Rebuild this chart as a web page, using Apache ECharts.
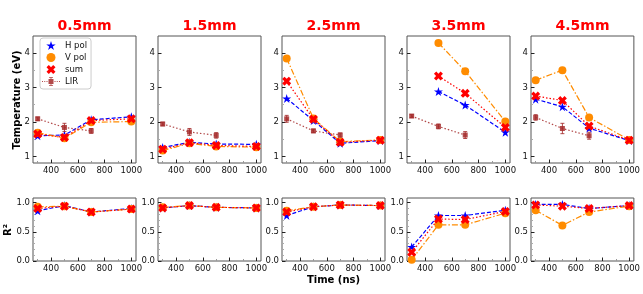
<!DOCTYPE html>
<html><head><meta charset="utf-8">
<script src="https://cdn.jsdelivr.net/npm/echarts@6/dist/echarts.min.js"></script>
<style>html,body{margin:0;padding:0;background:#fff}#c{width:643px;height:294px}</style>
</head><body><div id="c"></div>
<script>
// ---- data ----
const panels = ['0.5mm', '1.5mm', '2.5mm', '3.5mm', '4.5mm'];
const times = [300, 500, 700, 1000];
const xTickLabels = [400, 600, 800, 1000];
const xMinorTicks = [300, 500, 700, 900];
const tempTickLabels = [1, 2, 3, 4];
const tempMinorTicks = [1.5, 2.5, 3.5];
const r2TickLabels = [0, 0.5, 1.0];
const r2MinorTicks = [0.1, 0.2, 0.3, 0.4, 0.6, 0.7, 0.8, 0.9];

const tempH   = [[1.60, 1.62, 2.06, 2.15], [1.26, 1.41, 1.36, 1.35], [2.68, 2.04, 1.38, 1.46], [null, 2.88, 2.49, 1.70], [2.66, 2.44, 1.82, 1.46]];
const tempV   = [[1.69, 1.53, 1.99, 2.01], [1.17, 1.38, 1.29, 1.27], [3.84, 2.10, 1.43, 1.48], [null, 4.29, 3.47, 2.01], [3.21, 3.50, 2.13, 1.48]];
const tempSum = [[1.65, 1.55, 2.04, 2.09], [1.21, 1.40, 1.32, 1.29], [3.18, 2.08, 1.41, 1.47], [null, 3.33, 2.83, 1.84], [2.75, 2.62, 1.88, 1.47]];
const lirTimes = [300, 500, 700];
const lirT   = [[2.09, 1.84, 1.74], [1.94, 1.71, 1.61], [2.09, 1.74, 1.62], [2.17, 1.87, 1.62], [2.13, 1.81, 1.60]];
const lirErr = [[0.05, 0.12, 0.07], [0.05, 0.10, 0.08], [0.10, 0.05, 0.06], [0.04, 0.07, 0.10], [0.08, 0.15, 0.10]];

const r2H   = [[0.86, 0.95, 0.84, 0.90], [0.91, 0.95, 0.92, 0.91], [0.78, 0.93, 0.96, 0.95], [0.24, 0.78, 0.78, 0.87], [0.97, 0.97, 0.90, 0.95]];
const r2V   = [[0.93, 0.94, 0.84, 0.89], [0.92, 0.95, 0.92, 0.91], [0.86, 0.93, 0.96, 0.95], [0.02, 0.62, 0.62, 0.82], [0.87, 0.61, 0.84, 0.94]];
const r2Sum = [[0.90, 0.94, 0.84, 0.89], [0.91, 0.95, 0.92, 0.91], [0.84, 0.93, 0.96, 0.95], [0.15, 0.72, 0.71, 0.85], [0.96, 0.94, 0.90, 0.95]];

// ---- styles ----
const FONT = 'DejaVu Sans';
const STAR = 'path://M50,0L61.2,34.6L97.6,34.6L68.1,55.9L79.4,90.5L50,69L20.6,90.5L31.9,55.9L2.4,34.6L38.8,34.6Z';
const XMARK = 'path://M0,2.6L2.6,0L5,2.4L7.4,0L10,2.6L7.6,5L10,7.4L7.4,10L5,7.6L2.6,10L0,7.4L2.4,5Z';
const LIRICON = 'path://M0,8h2v2h-2z M4.5,8h2v2h-2z M9,8h2v2h-2z M25,8h2v2h-2z M29.5,8h2v2h-2z M34,8h2v2h-2z M13,4h10v10h-10z M17.2,0h1.6v18h-1.6z M14,0h8v1.5h-8z M14,16.5h8v1.5h-8z';
const C_H = '#0000FF', C_V = '#FF8C00', C_S = '#FF0000', C_L = '#A52A2A';

const lefts = [33, 158, 282, 407, 531];
const W = 103;
const rows = [{top: 36, height: 127}, {top: 198, height: 63}];

const grids = [], xAxes = [], yAxes = [], series = [];

function pairs(xs, ys) {
  const out = [];
  xs.forEach((x, k) => { if (ys[k] != null) out.push([x, ys[k]]); });
  return out;
}

for (let r = 0; r < 2; r++) {
  for (let i = 0; i < 5; i++) {
    const g = r * 5 + i;
    grids.push({left: lefts[i], width: W, top: rows[r].top, height: rows[r].height,
      show: true, borderColor: '#555', borderWidth: 1, backgroundColor: 'transparent'});
    xAxes.push({type: 'value', gridIndex: g, min: 265, max: 1035,
      axisLine: {show: false}, splitLine: {show: false},
      axisTick: {show: true, inside: true, length: 3.5, customValues: xTickLabels, lineStyle: {color: '#222', width: 1}},
      axisLabel: {show: true, customValues: xTickLabels, fontSize: 8.5, fontFamily: FONT, color: '#111', margin: 3,
        formatter: v => String(v)}});
    xAxes.push({type: 'value', gridIndex: g, min: 265, max: 1035, position: 'bottom',
      axisLine: {show: false}, splitLine: {show: false}, axisLabel: {show: false},
      axisTick: {show: true, inside: true, length: 2, customValues: xMinorTicks, lineStyle: {color: '#999', width: 1}}});
    const ymin = r === 0 ? 0.81 : 0;
    const ymax = r === 0 ? 4.49 : 1.08;
    const labs = r === 0 ? tempTickLabels : r2TickLabels;
    const mins = r === 0 ? tempMinorTicks : r2MinorTicks;
    yAxes.push({type: 'value', gridIndex: g, min: ymin, max: ymax,
      axisLine: {show: false}, splitLine: {show: false},
      axisTick: {show: true, inside: true, length: 3.5, customValues: labs, lineStyle: {color: '#222', width: 1}},
      axisLabel: {show: true, customValues: labs, fontSize: 8.5, fontFamily: FONT, color: '#111', margin: 3,
        formatter: r === 0 ? (v => String(v)) : (v => Number(v).toFixed(1))}});
    yAxes.push({type: 'value', gridIndex: g, min: ymin, max: ymax, position: 'left',
      axisLine: {show: false}, splitLine: {show: false}, axisLabel: {show: false},
      axisTick: {show: true, inside: true, length: 2, customValues: mins, lineStyle: {color: '#aaa', width: 1}}});

    const xi = 2 * g, yi = 2 * g;
    const hv = r === 0 ? tempH[i] : r2H[i];
    const vv = r === 0 ? tempV[i] : r2V[i];
    const sv = r === 0 ? tempSum[i] : r2Sum[i];
    series.push({type: 'line', name: 'H pol', xAxisIndex: xi, yAxisIndex: yi, data: pairs(times, hv),
      symbol: STAR, symbolSize: 9, itemStyle: {color: C_H}, lineStyle: {color: C_H, width: 1.2, type: [4, 2]}, z: 2});
    series.push({type: 'line', name: 'V pol', xAxisIndex: xi, yAxisIndex: yi, data: pairs(times, vv),
      symbol: 'circle', symbolSize: 8, itemStyle: {color: C_V}, lineStyle: {color: C_V, width: 1.2, type: [6, 2, 1.5, 2]}, z: 3});
    series.push({type: 'line', name: 'sum', xAxisIndex: xi, yAxisIndex: yi, data: pairs(times, sv),
      symbol: XMARK, symbolSize: 9, itemStyle: {color: C_S}, lineStyle: {color: C_S, width: 1.2, type: [1.5, 2]}, z: 4});
    if (r === 0) {
      series.push({type: 'line', name: 'LIR', xAxisIndex: xi, yAxisIndex: yi, data: pairs(lirTimes, lirT[i]),
        symbol: 'rect', symbolSize: 5, itemStyle: {color: C_L, opacity: 0.85}, lineStyle: {color: C_L, width: 1.2, type: [1.5, 2], opacity: 0.85}, z: 5});
      series.push({type: 'custom', name: 'LIR err', xAxisIndex: xi, yAxisIndex: yi, z: 5,
        data: lirTimes.map((t, k) => [t, lirT[i][k], lirErr[i][k]]),
        encode: {x: 0, y: 1},
        renderItem: function (params, api) {
          const x = api.value(0), y = api.value(1), e = api.value(2);
          const p1 = api.coord([x, y + e]), p2 = api.coord([x, y - e]);
          const st = {stroke: C_L, lineWidth: 1, opacity: 0.85};
          return {type: 'group', children: [
            {type: 'line', shape: {x1: p1[0], y1: p1[1], x2: p2[0], y2: p2[1]}, style: st},
            {type: 'line', shape: {x1: p1[0] - 2, y1: p1[1], x2: p1[0] + 2, y2: p1[1]}, style: st},
            {type: 'line', shape: {x1: p2[0] - 2, y1: p2[1], x2: p2[0] + 2, y2: p2[1]}, style: st}
          ]};
        }});
    }
  }
}

const graphics = panels.map((p, i) => ({type: 'text', x: lefts[i] + W / 2, y: 26,
  style: {text: p, fill: '#FF0000', font: 'bold 14px "DejaVu Sans"', textAlign: 'center', textVerticalAlign: 'middle'}}));
graphics.push({type: 'text', x: 17, y: 100, rotation: Math.PI / 2,
  style: {text: 'Temperature (eV)', fill: '#000', font: 'bold 10px "DejaVu Sans"', textAlign: 'center', textVerticalAlign: 'middle'}});
graphics.push({type: 'text', x: 8, y: 230, rotation: Math.PI / 2,
  style: {text: 'R²', fill: '#000', font: 'bold 10px "DejaVu Sans"', textAlign: 'center', textVerticalAlign: 'middle'}});
graphics.push({type: 'text', x: 333.5, y: 280,
  style: {text: 'Time (ns)', fill: '#000', font: 'bold 10px "DejaVu Sans"', textAlign: 'center', textVerticalAlign: 'middle'}});

const chart = echarts.init(document.getElementById('c'), null, {renderer: 'canvas'});
chart.setOption({
  animation: false,
  backgroundColor: '#fff',
  grid: grids, xAxis: xAxes, yAxis: yAxes, series: series,
  graphic: graphics,
  legend: {orient: 'vertical', left: 40, top: 38, padding: [3, 4, 3, 2], itemWidth: 18, itemHeight: 9, itemGap: 3,
    borderColor: '#ccc', borderWidth: 1, borderRadius: 3, backgroundColor: 'rgba(255,255,255,0.85)', selectedMode: false,
    textStyle: {fontSize: 8.5, fontFamily: FONT, color: '#111'},
    data: [{name: 'H pol', icon: STAR}, {name: 'V pol', icon: 'circle'}, {name: 'sum', icon: XMARK}, {name: 'LIR', icon: LIRICON}]}
});
</script></body></html>
